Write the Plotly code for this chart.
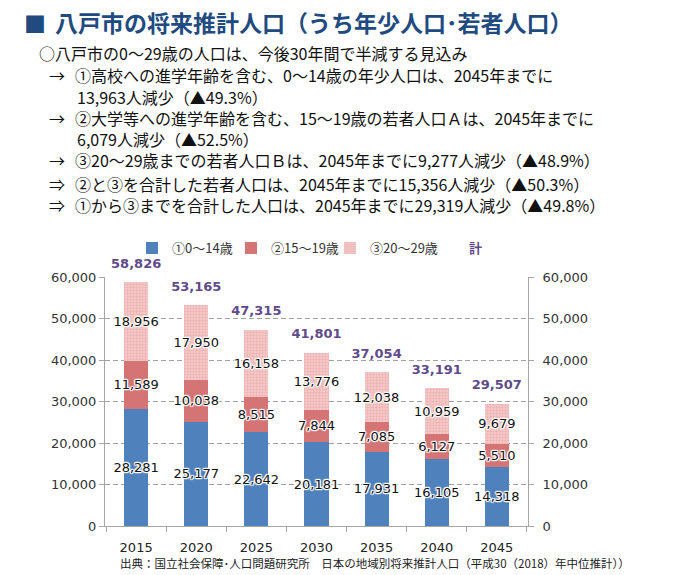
import plotly.graph_objects as go

years = ["2015", "2020", "2025", "2030", "2035", "2040", "2045"]
age_0_14 = [28281, 25177, 22642, 20181, 17931, 16105, 14318]
age_15_19 = [11589, 10038, 8515, 7844, 7085, 6127, 5510]
age_20_29 = [18956, 17950, 16158, 13776, 12038, 10959, 9679]
totals = [58826, 53165, 47315, 41801, 37054, 33191, 29507]
series_names = ["①0～14歳", "②15～19歳", "③20～29歳", "計"]
y_ticks = [0, 10000, 20000, 30000, 40000, 50000, 60000]

W, H = 700, 575
ML, MT, PW, PH = 105, 277, 423, 249
MR = W - ML - PW
MB = H - MT - PH


def X(px):
    return (px - ML) / PW


def Y(py):
    return (H - MB - py) / PH


CJK = "Noto Sans CJK JP"
LAT = "DejaVu Sans"
halo = "1px 0px 1px white, -1px 0px 1px white, 0px 1px 1px white, 0px -1px 1px white, 1px 1px 1px white, -1px -1px 1px white, 1px -1px 1px white, -1px 1px 1px white"

fig = go.Figure()
seg_style = [
    dict(color="#4F81BD"),
    dict(color="#D47474"),
    dict(color="#EFB5B5", pattern=dict(shape=".", fgcolor="#E49A9A", bgcolor="#F6CDCD", size=3, solidity=0.5)),
]
for name, vals, mk in zip(series_names[:3], [age_0_14, age_15_19, age_20_29], seg_style):
    fig.add_trace(go.Bar(
        x=years, y=vals, name=name, marker=dict(line=dict(width=0), **mk),
        text=[f"{v:,}" for v in vals], textposition="inside", insidetextanchor="middle",
        constraintext="none", textangle=0, cliponaxis=False,
        textfont=dict(family=LAT, size=13, color="#111111", shadow=halo),
        width=0.4, hoverinfo="skip",
    ))

fig.add_trace(go.Scatter(
    x=years, y=totals, mode="markers+text", text=[f"{v:,}" for v in totals],
    textposition="top center", name="計", showlegend=False, yaxis="y2",
    marker=dict(size=16, color="rgba(0,0,0,0)"),
    textfont=dict(family=LAT, size=13, color="#5F4B8B", weight="bold"),
    cliponaxis=False, hoverinfo="skip",
))
fig.add_trace(go.Scatter(
    x=[None], y=[None], mode="markers", name="<span style='color:#5F4B8B'><b>計</b></span>",
    marker=dict(size=1, color="rgba(0,0,0,0)"), showlegend=True,
))

axis_common = dict(
    range=[0, 60000], tickvals=y_ticks, tickformat=",", showline=True, linecolor="#A6A6A6",
    ticks="outside", ticklen=5, tickcolor="#A6A6A6",
    tickfont=dict(family=LAT, size=13, color="#333333"), zeroline=False,
)
fig.update_layout(
    width=W, height=H, margin=dict(l=ML, r=MR, t=MT, b=MB),
    paper_bgcolor="white", plot_bgcolor="white", barmode="stack", bargap=0.6,
    showlegend=True,
    legend=dict(orientation="h", x=X(132), xanchor="left", y=Y(248), yanchor="middle",
                font=dict(family=CJK, size=13, color="#333333"), bgcolor="rgba(0,0,0,0)",
                traceorder="normal", itemwidth=30, entrywidth=54, entrywidthmode="pixels"),
    xaxis=dict(showline=True, linecolor="#A6A6A6", ticks="outside", ticklen=5, tickcolor="#A6A6A6",
               tickson="boundaries", tickfont=dict(family=LAT, size=13, color="#222222"),
               ticklabelstandoff=9, showgrid=False),
    yaxis=dict(showgrid=True, gridcolor="#A0A0A0", griddash="5px,3px", gridwidth=1, **axis_common),
    yaxis2=dict(overlaying="y", side="right", showgrid=False, ticklabelstandoff=6, **axis_common),
    font=dict(family=CJK),
)

title_color = "#214B80"
ann = []
ann.append(dict(x=X(22), y=Y(22), text="■", font=dict(family=CJK, size=22, color=title_color)))
ann.append(dict(x=X(53), y=Y(22), text="<b>八戸市の将来推計人口（うち年少人口･若者人口）</b>",
                font=dict(family=CJK, size=23, color=title_color)))

lines = [
    (38, 53, "○八戸市の0～29歳の人口は、今後30年間で半減する見込み"),
    (48, 75, "→"), (74, 75, "①高校への進学年齢を含む、0～14歳の年少人口は、2045年までに"),
    (76, 97, "13,963人減少（▲49.3%）"),
    (48, 118, "→"), (74, 118, "②大学等への進学年齢を含む、15～19歳の若者人口Ａは、2045年までに"),
    (76, 139, "6,079人減少（▲52.5%）"),
    (48, 160, "→"), (74, 160, "③20～29歳までの若者人口Ｂは、2045年までに9,277人減少（▲48.9%）"),
    (48, 184, "⇒"), (74, 184, "②と③を合計した若者人口は、2045年までに15,356人減少（▲50.3%）"),
    (48, 205, "⇒"), (74, 205, "①から③までを合計した人口は、2045年までに29,319人減少（▲49.8%）"),
]
for px, py, t in lines:
    ann.append(dict(x=X(px), y=Y(py), text=t, borderpad=0,
                    font=dict(family=CJK, size=16, color="#111111")))

ann.append(dict(x=X(118), y=Y(563), text="出典：国立社会保障･人口問題研究所　日本の地域別将来推計人口（平成30（2018）年中位推計））",
                font=dict(family=CJK, size=11.5, color="#222222")))

for a in ann:
    a.update(xref="paper", yref="paper", xanchor="left", yanchor="middle", showarrow=False)
fig.update_layout(annotations=ann)

fig.write_html("out.html", config={"displayModeBar": False},
               post_script="document.body.style.margin='0';")
